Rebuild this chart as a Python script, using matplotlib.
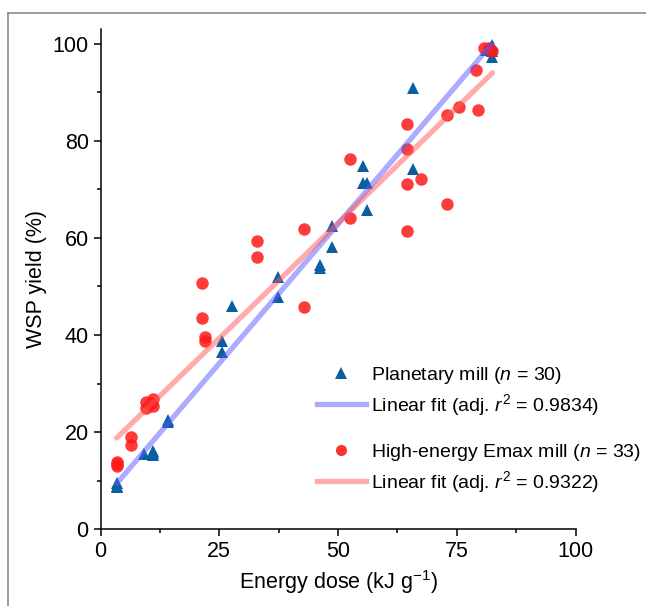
import matplotlib
matplotlib.use("Agg")
import matplotlib.pyplot as plt
import numpy as np
from matplotlib.lines import Line2D
from matplotlib.ticker import MultipleLocator

plt.rcParams['font.family'] = ['Liberation Sans', 'DejaVu Sans']
plt.rcParams['mathtext.fontset'] = 'custom'
plt.rcParams['mathtext.rm'] = 'Liberation Sans'
plt.rcParams['mathtext.it'] = 'Liberation Sans:italic'

# planetary mill (triangles), n = 30
plan_x = [3.4, 3.4, 3.4, 9.1, 11.0, 11.0, 11.0, 14.1, 14.1, 25.6,
          25.6, 27.7, 37.4, 37.4, 46.1, 46.1, 48.7, 48.7, 55.2, 55.2,
          56.1, 56.1, 65.7, 65.7, 81.7, 82.4, 82.4, 82.4, 82.4, 81.2]
plan_y = [9.5, 8.7, 9.0, 15.4, 16.2, 15.3, 15.8, 22.5, 22.0, 38.8,
          36.4, 45.9, 51.9, 47.9, 54.5, 53.8, 62.4, 58.2, 74.9, 71.3,
          71.3, 65.8, 90.8, 74.1, 99.0, 99.7, 97.3, 98.5, 99.2, 98.8]

# high-energy Emax mill (circles), n = 33
emax_x = [3.4, 3.4, 3.4, 6.5, 6.5, 9.6, 9.6, 11.1, 11.1, 10.6,
          21.3, 21.3, 21.9, 21.9, 32.9, 32.9, 42.9, 42.9, 52.6, 52.6,
          64.4, 64.4, 64.4, 64.4, 67.5, 72.9, 72.9, 75.4, 79.0, 79.4,
          80.8, 81.7, 82.3]
emax_y = [13.9, 13.1, 13.5, 19.0, 17.4, 26.2, 25.0, 26.8, 25.4, 26.0,
          50.7, 43.5, 39.6, 38.7, 59.4, 56.1, 61.9, 45.7, 76.3, 64.0,
          83.5, 78.3, 71.1, 61.4, 72.2, 67.0, 85.4, 87.0, 94.6, 86.4,
          99.1, 99.1, 98.4]

# fitted lines (end points)
fit_plan_x = [3.4, 82.4]
fit_plan_y = [9.4, 100.0]
fit_emax_x = [3.4, 82.5]
fit_emax_y = [18.8, 94.0]

blue = '#0a5fa3'
red = '#ff1a1a'
blue_fit = (0.35, 0.35, 1.0, 0.5)
red_fit = (1.0, 0.35, 0.35, 0.5)

fig = plt.figure(figsize=(6.46, 6.06), dpi=100)
ax = fig.add_axes([0.1556, 0.1267, 0.7355, 0.8252])

ax.plot(plan_x, plan_y, '^', color=blue, markersize=9, markeredgewidth=0, zorder=2)
ax.plot(emax_x, emax_y, 'o', color=red, alpha=0.85, markersize=9, markeredgewidth=0, zorder=2)
ax.plot(fit_plan_x, fit_plan_y, '-', color=blue_fit, lw=3.8, solid_capstyle='round', zorder=3)
ax.plot(fit_emax_x, fit_emax_y, '-', color=red_fit, lw=3.8, solid_capstyle='round', zorder=3)

ax.set_xlim(0, 100)
ax.set_ylim(0, 103)
ax.set_xticks([0, 25, 50, 75, 100])
ax.set_yticks([0, 20, 40, 60, 80, 100])
ax.xaxis.set_minor_locator(MultipleLocator(12.5))
ax.yaxis.set_minor_locator(MultipleLocator(10))
ax.tick_params(which='major', direction='out', length=5, width=1.1, labelsize=15.5)
ax.tick_params(which='minor', direction='out', length=3, width=1.1)
for s in ['top', 'right']:
    ax.spines[s].set_visible(False)
for s in ['left', 'bottom']:
    ax.spines[s].set_linewidth(1.1)

ax.set_xlabel('Energy dose (kJ g$^{-1}$)', fontsize=15.5)
ax.set_ylabel('WSP yield (%)', fontsize=15.5)
ax.xaxis.set_label_coords(0.5, -0.077)
ax.yaxis.set_label_coords(-0.113, 0.5)

h1 = [Line2D([], [], marker='^', ls='none', color=blue, markersize=8, markeredgewidth=0),
      Line2D([], [], color=blue_fit, lw=3.8)]
l1 = ['Planetary mill ($\\mathit{n}$ = 30)', 'Linear fit (adj. $\\mathit{r}^2$ = 0.9834)']
h2 = [Line2D([], [], marker='o', ls='none', color=red, alpha=0.9, markersize=8, markeredgewidth=0),
      Line2D([], [], color=red_fit, lw=3.8)]
l2 = ['High-energy Emax mill ($\\mathit{n}$ = 33)', 'Linear fit (adj. $\\mathit{r}^2$ = 0.9322)']

kw = dict(loc='upper left', frameon=False, fontsize=14, handlelength=2.5,
          handletextpad=0.25, labelspacing=0.3, borderaxespad=0, borderpad=0)
leg1 = ax.legend(h1, l1, bbox_to_anchor=(0.456, 0.328), **kw)
ax.add_artist(leg1)
ax.legend(h2, l2, bbox_to_anchor=(0.456, 0.174), **kw)

# grey frame around the panel
fig.add_artist(Line2D([8 / 646, 8 / 646], [0, 1 - 12.5 / 606], color='#8a8a8a', lw=1.2,
                      transform=fig.transFigure))
fig.add_artist(Line2D([8 / 646, 1], [1 - 12.5 / 606, 1 - 12.5 / 606], color='#8a8a8a', lw=1.2,
                      transform=fig.transFigure))

fig.savefig('out.png', dpi=100)
